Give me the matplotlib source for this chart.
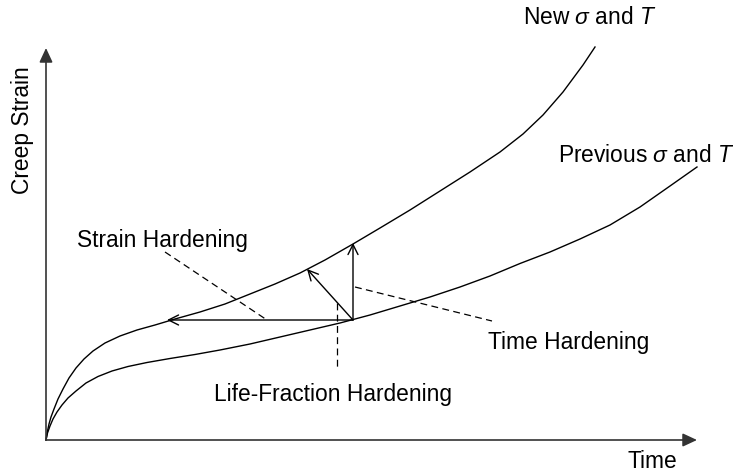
import matplotlib
matplotlib.use("Agg")
import matplotlib.pyplot as plt

plt.rcParams['font.family'] = ['Liberation Sans', 'DejaVu Sans']
plt.rcParams['mathtext.fontset'] = 'custom'
plt.rcParams['mathtext.rm'] = 'Liberation Sans'
plt.rcParams['mathtext.it'] = 'Liberation Sans:italic'

# creep curves (time, strain in arbitrary units)
t_new = [0, 1.5, 3, 5, 8, 12, 17, 23, 30, 38, 47, 59, 74, 91, 109, 129, 154,
         179, 204, 229, 254, 279, 307, 334, 364, 394, 424, 454, 477, 497,
         517, 537, 549]
e_new = [0, 9, 16, 23, 31, 41, 51, 62, 72, 81, 89, 97, 104, 110, 115, 121,
         128, 136, 146, 156, 167, 180, 196, 212, 230, 249, 268, 288, 306,
         325, 348, 375, 393]

t_prev = [0, 1.5, 4, 7, 11, 16, 22, 30, 40, 52, 66, 82, 101, 124, 149, 174,
          204, 234, 264, 294, 324, 354, 384, 414, 444, 474, 504, 534, 564,
          594, 624, 651]
e_prev = [0, 7, 14, 21, 28, 35, 42, 49, 57, 63.5, 69, 73.5, 77.5, 81.5,
          85.5, 90, 96, 103, 110, 117, 125, 134, 143, 153, 164, 176.5, 188,
          201, 215, 233, 254, 273]

# point where stress/temperature change happens, and the three rules
t_change, e_change = 307, 120
strain_hard = (121, 120)
time_hard = (307, 197)
life_frac = (261, 171)

fig = plt.figure(figsize=(7.33, 4.72), dpi=100)
ax = fig.add_axes([0, 0, 1, 1])
ax.set_xlim(-46, 687)
ax.set_ylim(-32, 440)
ax.axis('off')

# axes with arrows
ax_style = dict(arrowstyle='-|>,head_length=0.86,head_width=0.4',
                color='#333333', lw=1.2, shrinkA=0, shrinkB=0)
ax.annotate('', xy=(651, 0), xytext=(0, 0), arrowprops=ax_style)
ax.annotate('', xy=(0, 392), xytext=(0, 0), arrowprops=ax_style)

ax.plot(t_new, e_new, color='black', lw=1.0)
ax.plot(t_prev, e_prev, color='black', lw=1.0)

arr = dict(arrowstyle='->,head_length=0.72,head_width=0.36',
           color='black', lw=1.0, shrinkA=0, shrinkB=0)
for target in [strain_hard, life_frac, time_hard]:
    ax.annotate('', xy=target, xytext=(t_change, e_change), arrowprops=arr)

# dashed leader lines
dash = dict(color='black', lw=0.9, dashes=(5.5, 3.5))
ax.plot([119, 221], [188, 120], **dash)
ax.plot([309, 446], [153, 119], **dash)
ax.plot([291, 291], [137, 71], **dash)

fs = 16.4
ax.text(477, 423, r'New $\sigma$ and $T$', fontsize=fs, ha='left', va='center')
ax.text(512, 285, r'Previous $\sigma$ and $T$', fontsize=fs, ha='left', va='center')
ax.text(31, 200, 'Strain Hardening', fontsize=fs, ha='left', va='center')
ax.text(442, 98, 'Time Hardening', fontsize=fs, ha='left', va='center')
ax.text(168, 46, 'Life-Fraction Hardening', fontsize=fs, ha='left', va='center')
ax.text(581, -22, 'Time', fontsize=fs, ha='left', va='center')
ax.text(-23, 310, 'Creep Strain', fontsize=fs, rotation=90, ha='center', va='center')

fig.savefig('out.png', dpi=100)
